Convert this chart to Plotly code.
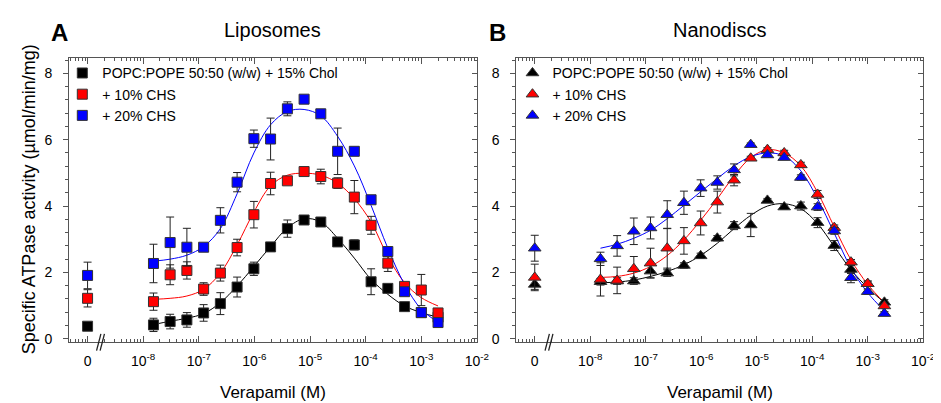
import plotly.graph_objects as go

# ---------------- data ----------------
conc = [1.53e-8, 3.05e-8, 6.1e-8, 1.22e-7, 2.44e-7, 4.88e-7, 9.77e-7, 1.95e-6, 3.91e-6,
        7.81e-6, 1.56e-5, 3.13e-5, 6.25e-5, 1.25e-4, 2.5e-4, 5e-4, 1e-3, 2e-3]

series_names = ["POPC:POPE 50:50 (w/w) + 15% Chol", "+ 10% CHS", "+ 20% CHS"]
series_colors = ["#000000", "#ff0000", "#0000ff"]

# Liposomes (panel A)
lip_chol = [0.42, 0.52, 0.57, 0.78, 1.06, 1.56, 2.11, 2.77, 3.32, 3.58, 3.52, 2.92, 2.83, 1.72, 1.52, 0.97, 0.79, 0.65]
lip_chol_err = [0.2, 0.22, 0.22, 0.25, 0.33, 0.3, 0.2, 0.06, 0.26, 0.06, 0.06, 0.06, 0.15, 0.39, 0.06, 0.06, 0.06, 0.06]
lip_chs10 = [1.12, 1.93, 2.06, 1.50, 1.98, 2.75, 3.74, 4.68, 4.76, 5.04, 4.89, 4.69, 4.27, 3.42, 2.28, 1.58, 1.47, 0.78]
lip_chs10_err = [0.26, 0.3, 0.26, 0.19, 0.24, 0.25, 0.4, 0.34, 0.07, 0.06, 0.22, 0.16, 0.5, 0.27, 0.25, 0.07, 0.47, 0.06]
lip_chs20 = [2.27, 2.90, 2.76, 2.76, 3.57, 4.72, 6.03, 6.02, 6.93, 7.22, 6.78, 5.65, 5.65, 4.19, 2.63, 1.42, 0.79, 0.49]
lip_chs20_err = [0.58, 0.77, 0.57, 0.06, 0.38, 0.29, 0.26, 0.63, 0.21, 0.06, 0.06, 0.7, 0.06, 0.06, 0.06, 0.06, 0.06, 0.06]
lip_zero = [0.38, 1.22, 1.91]
lip_zero_err = [0.05, 0.26, 0.4]

lip_fit_chol = [0.43, 0.53, 0.62, 0.76, 1.09, 1.59, 2.18, 2.78, 3.34, 3.62, 3.52, 3.03, 2.43, 1.79, 1.34, 0.99, 0.79, 0.65]
lip_fit_chs10 = [1.19, 1.22, 1.29, 1.49, 1.98, 2.83, 3.82, 4.61, 4.93, 4.99, 4.93, 4.69, 4.22, 3.52, 2.48, 1.69, 1.24, 0.99]
lip_fit_chs20 = [2.34, 2.40, 2.52, 2.78, 3.32, 4.37, 5.60, 6.45, 6.85, 6.91, 6.72, 6.10, 5.21, 4.02, 2.73, 1.64, 0.89, 0.50]

# Nanodiscs (panel B)
nd_chol = [1.72, 1.74, 1.74, 2.04, 1.98, 2.21, 2.50, 3.03, 3.41, 3.43, 4.17, 3.97, 4.00, 3.50, 2.81, 2.09, 1.66, 1.10]
nd_chol_err = [0.1, 0.1, 0.1, 0.2, 0.1, 0.08, 0.08, 0.08, 0.12, 0.35, 0.06, 0.06, 0.12, 0.15, 0.15, 0.12, 0.08, 0.08]
nd_chs10 = [1.79, 1.76, 2.11, 2.28, 2.73, 2.95, 3.49, 4.12, 4.78, 5.44, 5.70, 5.60, 5.24, 4.35, 3.35, 2.31, 1.66, 0.99]
nd_chs10_err = [0.5, 0.4, 0.37, 0.45, 0.6, 0.4, 0.36, 0.33, 0.17, 0.06, 0.06, 0.08, 0.08, 0.12, 0.08, 0.08, 0.08, 0.06]
nd_chs20 = [2.41, 2.80, 3.24, 3.34, 3.74, 4.10, 4.54, 4.71, 5.09, 5.85, 5.54, 5.46, 4.86, 3.97, 3.25, 1.84, 1.42, 0.76]
nd_chs20_err = [0.2, 0.31, 0.4, 0.33, 0.42, 0.35, 0.25, 0.2, 0.18, 0.05, 0.06, 0.06, 0.08, 0.1, 0.1, 0.15, 0.08, 0.06]
nd_zero = [1.64, 1.85, 2.73]
nd_zero_err = [0.15, 0.4, 0.39]

nd_fit_chol = [1.69, 1.71, 1.77, 1.88, 2.03, 2.23, 2.51, 2.88, 3.32, 3.72, 4.00, 4.07, 3.92, 3.47, 2.78, 2.08, 1.54, 1.09]
nd_fit_chs10 = [1.85, 1.88, 1.98, 2.18, 2.51, 2.98, 3.57, 4.22, 4.91, 5.46, 5.70, 5.60, 5.21, 4.41, 3.37, 2.38, 1.64, 1.09]
nd_fit_chs20 = [2.73, 2.85, 3.03, 3.27, 3.62, 4.02, 4.43, 4.83, 5.21, 5.49, 5.60, 5.51, 5.06, 4.22, 3.18, 2.13, 1.39, 0.84]

x_tick_vals = [1e-9, 1e-8, 1e-7, 1e-6, 1e-5, 1e-4, 1e-3, 1e-2]
x_tick_text = ["0", "10<sup>-8</sup>", "10<sup>-7</sup>", "10<sup>-6</sup>", "10<sup>-5</sup>",
               "10<sup>-4</sup>", "10<sup>-3</sup>", "10<sup>-2</sup>"]
ZERO_POS = 1e-9  # plotting slot of the "0" concentration (left of the axis break)

# ---------------- layout geometry ----------------
W, H = 941, 403
FONT = "Liberation Sans, Arial, sans-serif"
LEFT_DOM = [62 / W, 475 / W]
RIGHT_DOM = [515 / W, 927 / W]
Y_DOM = [(H - 338) / H, (H - 51) / H]
X_RANGE = [-9.33, -2.0]
Y_RANGE = [-0.09, 8.45]
AXC = "#555555"

minor_x = [k * 10.0 ** n for n in range(-10, -2) for k in range(2, 10)]

fig = go.Figure()

panels = [
    dict(xa="x", ya="y", legend="legend", symbol="square", size=10,
         vals=[lip_chol, lip_chs10, lip_chs20], errs=[lip_chol_err, lip_chs10_err, lip_chs20_err],
         fits=[lip_fit_chol, lip_fit_chs10, lip_fit_chs20], zero=lip_zero, zero_err=lip_zero_err),
    dict(xa="x2", ya="y2", legend="legend2", symbol="triangle-up", size=11,
         vals=[nd_chol, nd_chs10, nd_chs20], errs=[nd_chol_err, nd_chs10_err, nd_chs20_err],
         fits=[nd_fit_chol, nd_fit_chs10, nd_fit_chs20], zero=nd_zero, zero_err=nd_zero_err),
]

for p in panels:
    # fitted curves
    for i in range(3):
        fig.add_trace(go.Scatter(
            x=conc, y=p["fits"][i], mode="lines", line=dict(color=series_colors[i], width=1, shape="spline", smoothing=1.0),
            xaxis=p["xa"], yaxis=p["ya"], showlegend=False, hoverinfo="skip"))
    # data points
    for i in range(3):
        fig.add_trace(go.Scatter(
            x=[ZERO_POS] + conc, y=[p["zero"][i]] + p["vals"][i], mode="markers",
            marker=dict(symbol=p["symbol"], size=p["size"], color=series_colors[i],
                        line=dict(color="#333333", width=1)),
            error_y=dict(type="data", array=[p["zero_err"][i]] + p["errs"][i], color="#222222",
                         thickness=1, width=4),
            name=series_names[i], xaxis=p["xa"], yaxis=p["ya"], legend=p["legend"]))

# invisible traces to hold the right-side (inside tick) y axes
fig.add_trace(go.Scatter(x=[ZERO_POS], y=[0], xaxis="x", yaxis="y3", mode="markers",
                         marker=dict(opacity=0), showlegend=False, hoverinfo="skip"))
fig.add_trace(go.Scatter(x=[ZERO_POS], y=[0], xaxis="x2", yaxis="y4", mode="markers",
                         marker=dict(opacity=0), showlegend=False, hoverinfo="skip"))

tickfont = dict(family=FONT, size=14, color="black")


def xaxis(domain, anchor):
    return dict(type="log", domain=domain, anchor=anchor, range=X_RANGE,
                tickmode="array", tickvals=x_tick_vals, ticktext=x_tick_text,
                ticks="inside", ticklen=6, tickwidth=1, tickcolor=AXC,
                showline=True, linecolor=AXC, linewidth=1, mirror="ticks",
                showgrid=False, zeroline=False, tickfont=tickfont, ticklabelstandoff=6,
                minor=dict(tickmode="array", tickvals=minor_x, ticks="inside", ticklen=3,
                           tickwidth=1, tickcolor=AXC, showgrid=False))


def yaxis(domain_anchor):
    return dict(domain=Y_DOM, anchor=domain_anchor, range=Y_RANGE,
                tickmode="array", tickvals=[0, 2, 4, 6, 8],
                ticks="outside", ticklen=5, tickwidth=1, tickcolor=AXC,
                showline=True, linecolor=AXC, linewidth=1, mirror=True,
                showgrid=False, zeroline=False, tickfont=tickfont, ticklabelstandoff=8,
                minor=dict(dtick=0.4, tick0=0, ticks="outside", ticklen=3, tickwidth=1,
                           tickcolor=AXC, showgrid=False))


def yaxis_right(overlay, anchor):
    return dict(overlaying=overlay, side="right", anchor=anchor, range=Y_RANGE,
                tickmode="array", tickvals=[0, 2, 4, 6, 8],
                ticks="inside", ticklen=5, tickwidth=1, tickcolor=AXC,
                showline=False, showticklabels=False, showgrid=False, zeroline=False,
                minor=dict(dtick=0.4, tick0=0, ticks="inside", ticklen=3, tickwidth=1,
                           tickcolor=AXC, showgrid=False))


def legend_at(xpx, ypx):
    return dict(x=xpx / W, y=1 - ypx / H, xanchor="left", yanchor="top", xref="paper", yref="paper",
                bgcolor="rgba(0,0,0,0)", borderwidth=0, font=dict(family=FONT, size=14, color="black"),
                itemwidth=30, tracegroupgap=0)


fig.update_layout(
    width=W, height=H, margin=dict(l=0, r=0, t=0, b=0),
    paper_bgcolor="white", plot_bgcolor="white",
    font=dict(family=FONT, color="black"),
    xaxis=xaxis(LEFT_DOM, "y"), xaxis2=xaxis(RIGHT_DOM, "y2"),
    yaxis=yaxis("x"), yaxis2=yaxis("x2"),
    yaxis3=yaxis_right("y", "x"), yaxis4=yaxis_right("y2", "x2"),
    legend=legend_at(55, 50), legend2=legend_at(511, 50),
    showlegend=True,
)


def px_x(px):
    return px / W


def px_y(py):
    return 1 - py / H


annotations = [
    dict(text="Liposomes", x=px_x(268), y=px_y(22), font=dict(size=20)),
    dict(text="Nanodiscs", x=px_x(721), y=px_y(22), font=dict(size=20)),
    dict(text="<b>A</b>", x=px_x(52), y=px_y(25), font=dict(size=24)),
    dict(text="<b>B</b>", x=px_x(496), y=px_y(25), font=dict(size=24)),
    dict(text="Verapamil (M)", x=px_x(268), y=px_y(389), font=dict(size=17)),
    dict(text="Verapamil (M)", x=px_x(721), y=px_y(389), font=dict(size=17)),
    dict(text="Specific ATPase activity (\u00b5mol/min/mg)", x=px_x(21), y=px_y(194),
         textangle=-90, font=dict(size=18)),
]
for a in annotations:
    a.update(xref="paper", yref="paper", showarrow=False, xanchor="center", yanchor="middle")
    a["font"].update(family=FONT, color="black")
fig.update_layout(annotations=annotations)

# axis break marks "//" on the bottom axes
shapes = []
for cx in (93.7, 548.0):
    for dx in (-1.8, 1.8):
        shapes.append(dict(type="line", xref="paper", yref="paper",
                           x0=px_x(cx + dx - 2.2), y0=px_y(347), x1=px_x(cx + dx + 2.2), y1=px_y(330),
                           line=dict(color="#222222", width=1.3)))
fig.update_layout(shapes=shapes)

fig.write_html("out.html")
